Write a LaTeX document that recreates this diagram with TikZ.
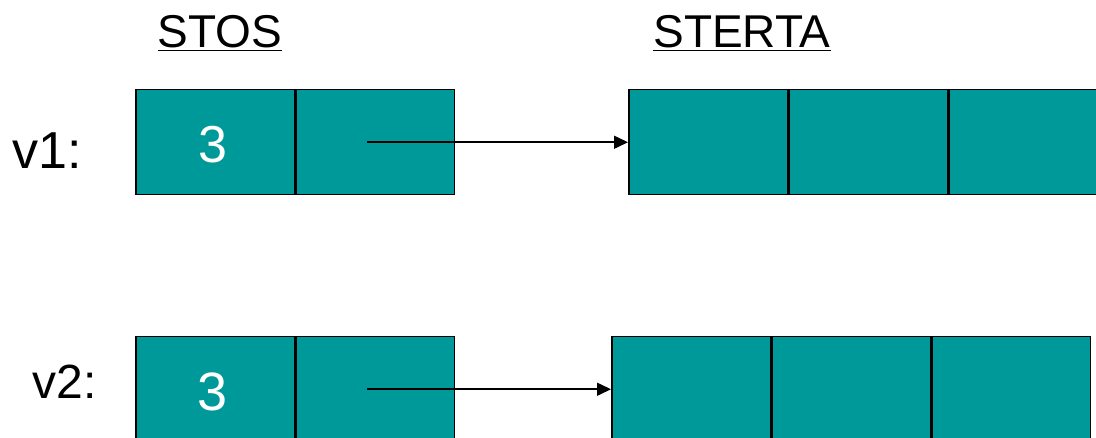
\documentclass[tikz,border=0pt]{standalone}
\usepackage{fontspec}
\setmainfont{Liberation Sans}
\usetikzlibrary{positioning,arrows.meta}
\definecolor{cellteal}{RGB}{0,153,153}

\tikzset{
    cell/.style={draw=black, fill=cellteal, line width=1.5pt, inner sep=0pt,
        minimum width=158.5pt, minimum height=105pt, anchor=north west},
    ptr/.style={line width=1.5pt, -{Triangle[length=14pt,width=13pt]}},
    heading/.style={font=\fontsize{46}{50}\selectfont, anchor=base},
    varname/.style={anchor=base west}
}

\begin{document}
\begin{tikzpicture}[x=1pt,y=-1pt]
    \clip (0,0) rectangle (1096,438);

    % Headings
    \node [heading] (stos) at (220,48) {\underline{STOS}};
    \node [heading] (sterta) at (742,48) {\underline{STERTA}};

    % v1: stack cells
    \node [cell] (v1val) at (135,89) {};
    \node [cell, right=0pt of v1val] (v1ptr) {};
    \node [font=\fontsize{52}{56}\selectfont, text=white, anchor=base] (v1num) at (213,163) {3};
    % v1: heap cells
    \node [cell] (v1h1) at (628,89) {};
    \node [cell, right=0pt of v1h1] (v1h2) {};
    \node [cell, right=0pt of v1h2] (v1h3) {};

    % v2: stack cells
    \node [cell] (v2val) at (135,336) {};
    \node [cell, right=0pt of v2val] (v2ptr) {};
    \node [font=\fontsize{54}{58}\selectfont, text=white, anchor=base] (v2num) at (213,411) {3};
    % v2: heap cells
    \node [cell] (v2h1) at (611,336) {};
    \node [cell, right=0pt of v2h1] (v2h2) {};
    \node [cell, right=0pt of v2h2] (v2h3) {};

    % Variable names
    \node [varname, font=\fontsize{52}{56}\selectfont] (v1lab) at (9,169) {v1:};
    \node [varname, font=\fontsize{48}{52}\selectfont] (v2lab) at (29,399) {v2:};

    % Pointers
    \coordinate (p1) at ([xshift=-8pt]v1ptr.center);
    \coordinate (p2) at ([xshift=-8pt]v2ptr.center);
    \draw [ptr] (p1) -- (p1 -| v1h1.west);
    \draw [ptr] (p2) -- (p2 -| v2h1.west);
\end{tikzpicture}
\end{document}
